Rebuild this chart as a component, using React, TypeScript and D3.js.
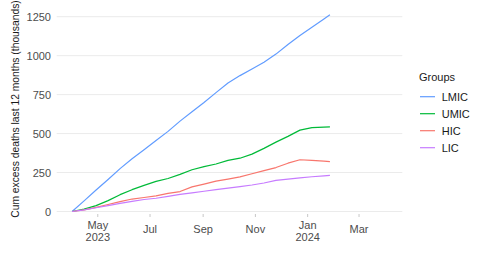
import React from "react";
import * as d3 from "d3";

const dates: string[] = [
  "2023-04-01", "2023-04-15", "2023-04-29", "2023-05-13", "2023-05-27", "2023-06-10",
  "2023-06-24", "2023-07-08", "2023-07-22", "2023-08-05", "2023-08-19", "2023-09-02",
  "2023-09-16", "2023-09-30", "2023-10-14", "2023-10-28", "2023-11-11", "2023-11-25",
  "2023-12-09", "2023-12-23", "2024-01-06", "2024-01-20", "2024-01-27",
];

const lmic: number[] = [0, 68, 138, 205, 275, 338, 396, 455, 514, 580, 640, 700, 763, 825, 872, 915, 958, 1010, 1072, 1130, 1183, 1235, 1262];
const umic: number[] = [0, 15, 38, 70, 108, 140, 168, 193, 212, 238, 268, 288, 305, 328, 342, 368, 405, 445, 482, 522, 538, 541, 543];
const hic: number[] = [0, 10, 27, 45, 63, 80, 90, 100, 116, 128, 158, 176, 195, 208, 222, 242, 262, 282, 310, 332, 328, 323, 320];
const lic: number[] = [0, 11, 24, 38, 52, 65, 77, 85, 97, 110, 120, 130, 140, 150, 160, 170, 183, 200, 208, 216, 223, 229, 232];

const groups: string[] = ["LMIC", "UMIC", "HIC", "LIC"];
const colors: string[] = ["#619CFF", "#00BA38", "#F8766D", "#C77CFF"];
const seriesValues: number[][] = [lmic, umic, hic, lic];

const yTicks: number[] = [0, 250, 500, 750, 1000, 1250];
const xTickDates: string[] = ["2023-05-01", "2023-07-01", "2023-09-01", "2023-11-01", "2024-01-01", "2024-03-01"];
const xTickLabels: string[][] = [["May", "2023"], ["Jul"], ["Sep"], ["Nov"], ["Jan", "2024"], ["Mar"]];

const yTitle = "Cum excess deaths last 12 months (thousands)";
const legendTitle = "Groups";

const parse = d3.timeParse("%Y-%m-%d");

export default function App() {
  const W = 490, H = 257;
  const panelL = 56.7, panelR = 402.3;
  const x = d3.scaleTime()
    .domain([parse("2023-04-01")!, parse("2024-04-01")!])
    .range([72.1, 385.6]);
  const y = d3.scaleLinear().domain([0, 1250]).range([211.5, 16.7]);
  const line = d3.line<[Date, number]>()
    .x((d) => x(d[0]))
    .y((d) => y(d[1]));
  const parsedDates = dates.map((d) => parse(d)!);
  const font = "'Liberation Sans', Arial, sans-serif";

  return (
    <svg width={W} height={H} style={{ position: "absolute", left: 0, top: 0, background: "#fff" }} fontFamily={font}>
      {yTicks.map((t) => (
        <g key={t}>
          <line x1={panelL} x2={panelR} y1={y(t)} y2={y(t)} stroke="#ebebeb" strokeWidth={1} />
          <text x={51} y={y(t) + 4} textAnchor="end" fontSize={11} fill="#4d4d4d">{t}</text>
        </g>
      ))}
      {xTickDates.map((d, i) => {
        const xx = x(parse(d)!);
        const lbl = xTickLabels[i];
        return (
          <g key={d}>
            <line x1={xx} x2={xx} y1={214} y2={217} stroke="#c8c8c8" strokeWidth={1} />
            {lbl.length === 2 ? (
              <>
                <text x={xx} y={228.5} textAnchor="middle" fontSize={11} fill="#4d4d4d">{lbl[0]}</text>
                <text x={xx} y={240.7} textAnchor="middle" fontSize={11} fill="#4d4d4d">{lbl[1]}</text>
              </>
            ) : (
              <text x={xx} y={233.2} textAnchor="middle" fontSize={11} fill="#4d4d4d">{lbl[0]}</text>
            )}
          </g>
        );
      })}
      {seriesValues.map((vals, i) => (
        <path
          key={groups[i]}
          d={line(vals.map((v, j) => [parsedDates[j], v] as [Date, number])) || ""}
          fill="none"
          stroke={colors[i]}
          strokeWidth={1.2}
          strokeLinejoin="round"
        />
      ))}
      <text
        transform="translate(18.5,109) rotate(-90)"
        textAnchor="middle"
        fontSize={10.3}
        fill="#1a1a1a"
      >
        {yTitle}
      </text>
      <text x={419} y={80.5} fontSize={11} fill="#1a1a1a">{legendTitle}</text>
      {groups.map((g, i) => {
        const cy = 96.7 + i * 17;
        return (
          <g key={g}>
            <line x1={420} x2={435} y1={cy} y2={cy} stroke={colors[i]} strokeWidth={1.2} />
            <text x={441.7} y={cy + 4} fontSize={11} fill="#1a1a1a">{g}</text>
          </g>
        );
      })}
    </svg>
  );
}
